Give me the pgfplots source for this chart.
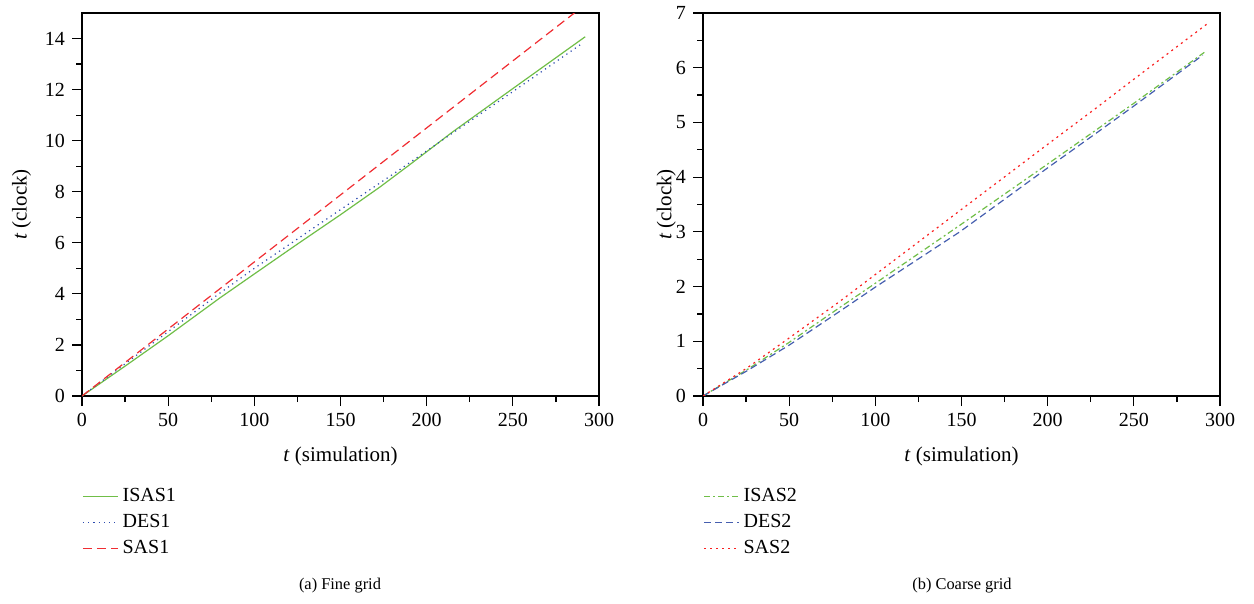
\documentclass[border=0pt]{standalone}
\usepackage{fontspec}
\setmainfont{Liberation Serif}
\usepackage{pgfplots}
\pgfplotsset{compat=1.18}

\definecolor{cgreen}{RGB}{112,190,72}
\definecolor{cblue}{RGB}{45,75,175}
\definecolor{cred}{RGB}{240,45,50}
\definecolor{cblue2}{RGB}{70,95,175}
\definecolor{cred2}{RGB}{250,30,30}

\pgfplotsset{myax/.style={
  scale only axis, width=258.5pt, height=191.5pt,
  xmin=0, xmax=300, ymin=0,
  axis line style={black, line width=0.65pt},
  tick pos=left, tick align=outside,
  major tick length=5pt, minor tick length=3pt,
  every tick/.style={black, line width=0.6pt},
  minor x tick num=1, minor y tick num=1,
  xtick={0,50,...,300},
  tick label style={font=\fontsize{10}{12}\selectfont},
  label style={font=\fontsize{10.5}{12}\selectfont},
  xlabel style={yshift=-3.5pt},
  /pgf/number format/assume math mode=true,
  xlabel={\textit{t} (simulation)}, ylabel={\textit{t} (clock)},
  legend style={draw=none, fill=none, at={(axis description cs:0,-0.229)}, anchor=north west,
    inner sep=0pt, font=\fontsize{10}{11}\selectfont, row sep=1pt,
    /tikz/every even column/.append style={column sep=0pt}},
  legend image code/.code={\draw[#1] (0pt,0pt) -- (17.5pt,0pt);},
  legend cell align=left,
  every axis plot/.append style={line width=0.6pt},
}}

\begin{document}
\begin{tikzpicture}
\path[use as bounding box] (0pt,0pt) rectangle (627pt,-302pt);

\begin{axis}[myax, at={(41pt,-198pt)}, anchor=south west, ymax=15, ytick={0,2,...,14}]
\addplot[cgreen] coordinates {(0,0) (25,1.17) (50,2.36) (80,3.84) (100,4.78) (125,5.95) (150,7.1) (173,8.19) (190,9.05) (215,10.34) (250,12.04) (292,14.07)};
\addplot[cblue, dotted] coordinates {(0,0) (25,1.26) (50,2.52) (80,4.03) (100,5.0) (150,7.3) (184,8.85) (200,9.6) (250,11.92) (289,13.75)};
\addplot[cred, dash pattern=on 4.5pt off 2.5pt] coordinates {(0,0) (100,5.25) (200,10.5) (292,15.33)};
\legend{ISAS1, DES1, SAS1}
\end{axis}

\begin{axis}[myax, at={(351.5pt,-198pt)}, anchor=south west, ymax=7, ytick={0,1,...,7},
  ylabel style={at={(axis description cs:-0.071,0.5)}, anchor=center}]
\addplot[cgreen, dash pattern=on 3pt off 1.5pt on 1pt off 1.5pt] coordinates {(0,0) (25,0.47) (50,0.98) (79,1.61) (100,2.06) (149,3.12) (200,4.24) (228,4.86) (250,5.35) (291.3,6.29)};
\addplot[cblue2, dash pattern=on 3.5pt off 2pt] coordinates {(0,0) (25,0.45) (50,0.93) (79,1.54) (100,1.99) (149,3.0) (200,4.17) (228,4.80) (250,5.3) (290,6.23)};
\addplot[cred2, dash pattern=on 1pt off 2pt] coordinates {(0,0) (25,0.5) (50,1.06) (79,1.72) (100,2.22) (150,3.41) (200,4.6) (228,5.26) (250,5.79) (292.5,6.8)};
\legend{ISAS2, DES2, SAS2}
\end{axis}

\node[font=\fontsize{8.2}{10}\selectfont] at (170pt,-293pt) {(a) Fine grid};
\node[font=\fontsize{8.2}{10}\selectfont] at (481pt,-293pt) {(b) Coarse grid};
\end{tikzpicture}
\end{document}
